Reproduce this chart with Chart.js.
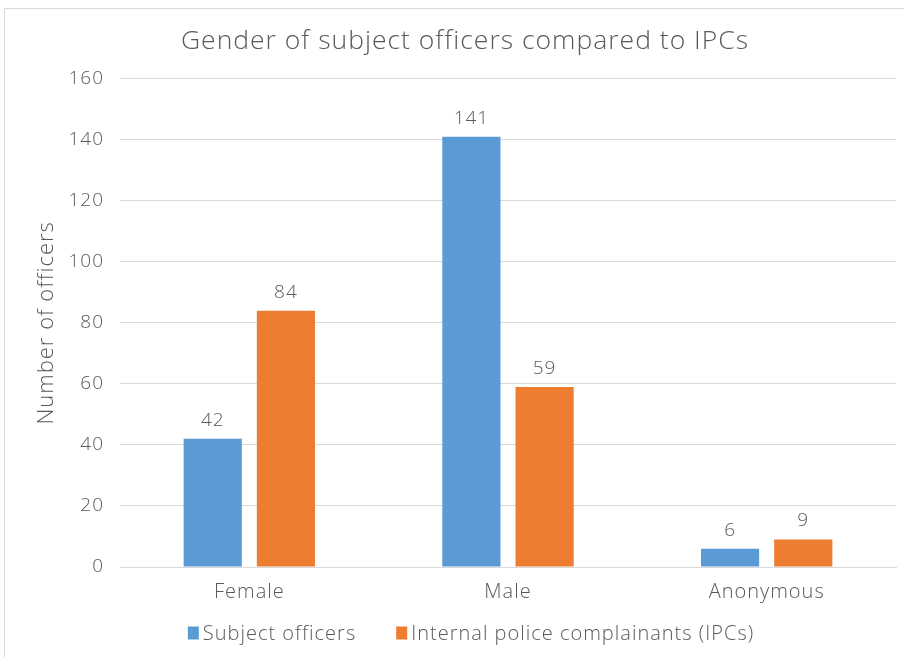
<!DOCTYPE html>
<html><head><meta charset="utf-8">
<script src="https://cdn.jsdelivr.net/npm/chart.js@4/dist/chart.umd.min.js"></script>
<style>html,body{margin:0;padding:0;background:#fff;}#wrap{width:904px;height:657px;position:relative;}</style>
</head><body><div id="wrap"><canvas id="c" width="904" height="657"></canvas></div>
<script>
const categories = ["Female", "Male", "Anonymous"];
const subjectOfficers = [42, 141, 6];
const ipcs = [84, 59, 9];
const seriesNames = ["Subject officers", "Internal police complainants (IPCs)"];
const yTicks = [0, 20, 40, 60, 80, 100, 120, 140, 160];
const titleText = "Gender of subject officers compared to IPCs";
const yTitle = "Number of officers";

const FONT = "'Open Sans', sans-serif";
const TXT = "#595959";
const SPACING = '1px';

const spacing = {
  id: 'spacing',
  beforeLayout(chart) { chart.ctx.letterSpacing = SPACING; },
  beforeDraw(chart) { chart.ctx.letterSpacing = SPACING; }
};
const frame = {
  id: 'frame',
  beforeDraw(chart) {
    const ctx = chart.ctx;
    ctx.save();
    ctx.strokeStyle = '#d9d9d9';
    ctx.lineWidth = 1;
    ctx.strokeRect(4.5, 8.5, 920, 680);
    ctx.restore();
  }
};
const labels = {
  id: 'labels',
  afterDatasetsDraw(chart) {
    const ctx = chart.ctx;
    ctx.save();
    ctx.letterSpacing = SPACING;
    ctx.font = "300 19px " + FONT;
    ctx.fillStyle = TXT;
    ctx.textAlign = 'center';
    ctx.textBaseline = 'bottom';
    chart.data.datasets.forEach((ds, i) => {
      chart.getDatasetMeta(i).data.forEach((bar, j) => {
        ctx.fillText(String(ds.data[j]), bar.x, bar.y - 9);
      });
    });
    ctx.restore();
  }
};
const legendBox = {
  id: 'legendBox',
  afterDraw(chart) {
    const ctx = chart.ctx;
    ctx.save();
    ctx.letterSpacing = SPACING;
    ctx.font = "300 20px " + FONT;
    ctx.textBaseline = 'middle';
    ctx.textAlign = 'left';
    const bw = 11, bh = 13, gap = 4, itemGap = 40;
    const items = chart.data.datasets.map(ds => ({ text: ds.label, color: ds.backgroundColor, w: ctx.measureText(ds.label).width }));
    let total = items.reduce((s, it) => s + bw + gap + it.w, 0) + itemGap * (items.length - 1);
    let x = 471 - total / 2;
    const y = 633;
    items.forEach(it => {
      ctx.fillStyle = it.color;
      ctx.fillRect(x, y - bh / 2, bw, bh);
      ctx.fillStyle = TXT;
      ctx.fillText(it.text, x + bw + gap, y + 1);
      x += bw + gap + it.w + itemGap;
    });
    ctx.restore();
  }
};

new Chart(document.getElementById('c'), {
  type: 'bar',
  data: {
    labels: categories,
    datasets: [
      { label: seriesNames[0], data: subjectOfficers, backgroundColor: '#5b9bd5' },
      { label: seriesNames[1], data: ipcs, backgroundColor: '#ed7d31' }
    ]
  },
  options: {
    responsive: false,
    animation: false,
    devicePixelRatio: 1,
    layout: { padding: { left: 34, right: 8, top: 26, bottom: 40 } },
    datasets: { bar: { categoryPercentage: 0.566, barPercentage: 0.795 } },
    plugins: {
      title: { display: true, text: titleText, color: TXT, font: { family: FONT, size: 26.5, weight: 300 }, padding: { top: 0, bottom: 21 } },
      legend: { display: false },
      tooltip: { enabled: false }
    },
    scales: {
      x: {
        grid: { display: false, drawTicks: false },
        border: { color: '#d9d9d9' },
        ticks: { color: TXT, font: { family: FONT, size: 20, weight: 300 }, padding: 13 }
      },
      y: {
        min: 0, max: 160,
        afterBuildTicks(axis) { axis.ticks = yTicks.map(v => ({ value: v })); },
        afterFit(axis) { axis.width = 86; },
        grid: { color: '#d9d9d9', drawTicks: false },
        border: { display: false },
        ticks: { color: TXT, font: { family: FONT, size: 19, weight: 300 }, padding: 16 },
        title: { display: true, text: yTitle, color: TXT, font: { family: FONT, size: 22, weight: 300 }, padding: { top: 0, bottom: 6 } }
      }
    }
  },
  plugins: [spacing, frame, labels, legendBox]
});
</script></body></html>
